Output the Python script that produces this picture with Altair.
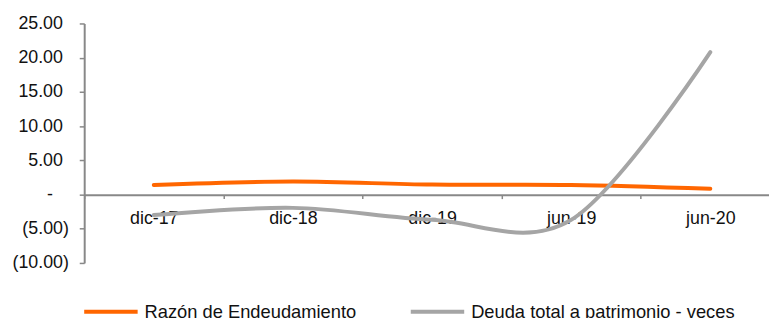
import altair as alt
import pandas as pd

categories = ["dic-17", "dic-18", "dic-19", "jun-19", "jun-20"]
razon = [1.4, 1.9, 1.45, 1.4, 0.85]
deuda = [-3.0, -1.95, -3.7, -3.7, 20.8]
series_names = ["Razón de Endeudamiento", "Deuda total a patrimonio - veces"]
series_colors = ["#FF6600", "#A5A5A5"]
y_ticks_pos = [5, 10, 15, 20, 25]
y_ticks_neg = [-10, -5]
y_ticks_zero = [0]

rows = []
for name, vals in zip(series_names, [razon, deuda]):
    for c, v in zip(categories, vals):
        rows.append({"cat": c, "serie": name, "valor": v})
df = pd.DataFrame(rows)

FONT = "Liberation Sans"
FS = 18
AXIS_GREY = "#888888"
TEXT = "#111111"

x_enc = alt.X(
    "cat:N",
    sort=categories,
    bandPosition=0.5,
    scale=alt.Scale(type="band", paddingInner=0, paddingOuter=0, range=[0, 703]),
    axis=alt.Axis(
        title=None,
        orient="bottom",
        offset=-69,
        tickBand="extent",
        labelAngle=0,
        labelFont=FONT,
        labelFontSize=FS,
        labelColor=TEXT,
        labelPadding=11,
        tickSize=4,
        tickColor=AXIS_GREY,
        tickWidth=1.5,
        domainColor=AXIS_GREY,
        domainWidth=2,
        grid=False,
    ),
)


def y_enc(values, expr, pad, domain):
    return alt.Y(
        "valor:Q",
        scale=alt.Scale(domain=[-10, 25], nice=False, zero=False),
        axis=alt.Axis(
            title=None,
            orient="left",
            values=values,
            labelExpr=expr,
            labelFont=FONT,
            labelFontSize=FS,
            labelColor=TEXT,
            labelPadding=pad,
            tickSize=5,
            tickColor=AXIS_GREY,
            tickWidth=1.5,
            domain=domain,
            domainColor=AXIS_GREY,
            domainWidth=2,
            grid=False,
        ),
    )


lines = (
    alt.Chart(df)
    .mark_line(interpolate="cardinal", tension=0, strokeWidth=4, strokeCap="round")
    .encode(
        x=x_enc,
        y=y_enc(y_ticks_pos, "format(datum.value, '.2f')", 17, True),
        color=alt.Color(
            "serie:N",
            sort=series_names,
            scale=alt.Scale(domain=series_names, range=series_colors),
            legend=alt.Legend(
                title=None,
                orient="none",
                legendX=-2,
                legendY=262,
                direction="horizontal",
                symbolType="stroke",
                symbolStrokeWidth=4,
                symbolSize=2916,
                labelFont=FONT,
                labelFontSize=18.5,
                labelColor=TEXT,
                labelLimit=0,
                labelOffset=5,
                columnPadding=47,
                padding=0,
            ),
        ),
    )
)

neg_axis = (
    alt.Chart(df)
    .mark_point(opacity=0)
    .encode(
        x=x_enc,
        y=y_enc(y_ticks_neg, "'(' + format(-datum.value, '.2f') + ')'", 11, False),
    )
)

zero_axis = (
    alt.Chart(df)
    .mark_point(opacity=0)
    .encode(
        x=x_enc,
        y=y_enc(y_ticks_zero, "'-'", 27, False),
    )
)

chart = (
    alt.layer(lines, neg_axis, zero_axis)
    .resolve_scale(y="independent")
    .properties(
        width=692,
        height=242,
        autosize=alt.AutoSizeParams(type="none"),
        padding={"left": 77, "top": 14, "right": 0, "bottom": 54},
    )
    .configure_view(stroke=None)
)

chart.save("out.html", embed_options={"renderer": "svg", "actions": False})
